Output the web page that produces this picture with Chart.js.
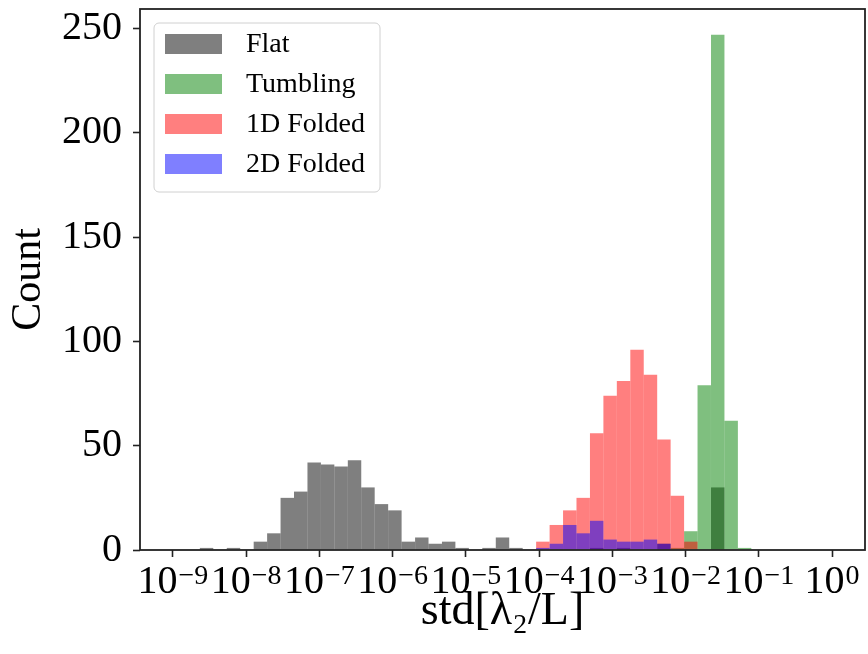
<!DOCTYPE html>
<html>
<head>
<meta charset="utf-8">
<script src="https://cdn.jsdelivr.net/npm/chart.js@4.4.3/dist/chart.umd.min.js"></script>
<style>
  html, body { margin: 0; padding: 0; background: #fff; }
</style>
</head>
<body>
<canvas id="hist" width="868" height="654"></canvas>
<script>
// histogram bins: log10 of the 50 bin edges (10^-9 .. 10^0)
const binEdges = [
  -9.000, -8.816, -8.633, -8.449, -8.265, -8.082, -7.898, -7.714, -7.531, -7.347,
  -7.163, -6.980, -6.796, -6.612, -6.429, -6.245, -6.061, -5.878, -5.694, -5.510,
  -5.327, -5.143, -4.959, -4.776, -4.592, -4.408, -4.224, -4.041, -3.857, -3.673,
  -3.490, -3.306, -3.122, -2.939, -2.755, -2.571, -2.388, -2.204, -2.020, -1.837,
  -1.653, -1.469, -1.286, -1.102, -0.918, -0.735, -0.551, -0.367, -0.184, 0.000
];

// counts per bin
const flatCounts = [
  0, 0, 1, 0, 1, 0, 4, 8, 25, 28,
  42, 41, 40, 43, 30, 22, 19, 4, 6, 3,
  4, 1, 0, 1, 6, 1, 0, 0, 0, 0,
  0, 1, 0, 1, 0, 0, 3, 0, 0, 0,
  30, 0, 0, 0, 0, 0, 0, 0, 0
];
const tumblingCounts = [
  0, 0, 0, 0, 0, 0, 0, 0, 0, 0,
  0, 0, 0, 0, 0, 0, 0, 0, 0, 0,
  0, 0, 0, 0, 0, 0, 0, 0, 0, 0,
  0, 0, 0, 0, 0, 0, 0, 1, 9, 79,
  247, 62, 1, 0, 0, 0, 0, 0, 0
];
const folded1DCounts = [
  0, 0, 0, 0, 0, 0, 0, 0, 0, 0,
  0, 0, 0, 0, 0, 0, 0, 0, 0, 0,
  0, 0, 0, 0, 0, 0, 0, 4, 12, 19,
  25, 56, 74, 81, 96, 84, 53, 26, 4, 0,
  0, 0, 0, 0, 0, 0, 0, 0, 0
];
const folded2DCounts = [
  0, 0, 0, 0, 0, 0, 0, 0, 0, 0,
  0, 0, 0, 0, 0, 0, 0, 0, 0, 0,
  0, 0, 0, 0, 0, 0, 0, 1, 3, 12,
  8, 14, 5, 4, 4, 5, 3, 0, 0, 0,
  0, 0, 0, 0, 0, 0, 0, 0, 0
];

const seriesNames = ['Flat', 'Tumbling', '1D Folded', '2D Folded'];
const seriesColors = ['rgba(0,0,0,0.5)', 'rgba(0,128,0,0.5)', 'rgba(255,0,0,0.5)', 'rgba(0,0,255,0.5)'];

// x ticks: 10^p, drawn as base + raised exponent
const xTickPowers = [-9, -8, -7, -6, -5, -4, -3, -2, -1, 0];
const xTickExponents = ['−9', '−8', '−7', '−6', '−5', '−4', '−3', '−2', '−1', '0'];
const yTicks = [0, 50, 100, 150, 200, 250];

const SERIF = "'Liberation Serif', 'DejaVu Serif', serif";

function toPoints(counts) {
  return counts.map((c, i) => ({ x: (binEdges[i] + binEdges[i + 1]) / 2, y: c }));
}

const allCounts = [flatCounts, tumblingCounts, folded1DCounts, folded2DCounts];

// frame, power-of-ten tick labels and legend box
const extras = {
  id: 'extras',
  afterDraw(chart) {
    const { ctx, chartArea: a } = chart;
    ctx.save();
    ctx.lineWidth = 1.8;
    ctx.strokeStyle = '#222';
    ctx.strokeRect(a.left, a.top, a.right - a.left, a.bottom - a.top);

    // x tick labels
    const xs = chart.scales.x;
    ctx.fillStyle = '#000';
    ctx.textAlign = 'left';
    ctx.textBaseline = 'alphabetic';
    xTickPowers.forEach((p, i) => {
      const px = xs.getPixelForValue(p);
      ctx.font = '40px ' + SERIF;
      const wBase = ctx.measureText('10').width;
      ctx.font = '28px ' + SERIF;
      const wExp = ctx.measureText(xTickExponents[i]).width;
      const x0 = px - (wBase + wExp + 1) / 2;
      ctx.font = '40px ' + SERIF;
      ctx.fillText('10', x0, a.bottom + 43);
      ctx.font = '28px ' + SERIF;
      ctx.fillText(xTickExponents[i], x0 + wBase + 1, a.bottom + 34);
    });

    // legend
    const lx = a.left + 14, ly = a.top + 14, lw = 226, lh = 169;
    ctx.beginPath();
    ctx.roundRect(lx, ly, lw, lh, 5);
    ctx.fillStyle = 'rgba(255,255,255,0.8)';
    ctx.fill();
    ctx.lineWidth = 1;
    ctx.strokeStyle = '#d0d0d0';
    ctx.stroke();

    ctx.font = '28px ' + SERIF;
    ctx.textBaseline = 'middle';
    chart.data.datasets.forEach((ds, i) => {
      const cy = ly + 21 + i * 40;
      ctx.fillStyle = ds.backgroundColor;
      ctx.fillRect(lx + 11, cy - 10, 57, 20);
      ctx.fillStyle = '#000';
      ctx.fillText(ds.label, lx + 92, cy + 1);
    });
    ctx.restore();
  }
};

const noEdgePadding = (scale) => {
  scale.paddingTop = 0;
  scale.paddingBottom = 0;
  scale.paddingLeft = 0;
  scale.paddingRight = 0;
};

new Chart(document.getElementById('hist'), {
  type: 'bar',
  data: {
    datasets: seriesNames.map((name, i) => ({
      label: name,
      data: toPoints(allCounts[i]),
      backgroundColor: seriesColors[i],
      borderWidth: 0,
      inflateAmount: 0,
      barPercentage: 1,
      categoryPercentage: 1,
      grouped: false,
      order: seriesNames.length - i
    }))
  },
  options: {
    responsive: false,
    animation: false,
    layout: { padding: { top: 9, right: 3, left: 0, bottom: 0 } },
    plugins: {
      legend: { display: false },
      tooltip: { enabled: false }
    },
    scales: {
      x: {
        type: 'linear',
        min: -9.45,
        max: 0.45,
        offset: false,
        afterBuildTicks: (scale) => { scale.ticks = xTickPowers.map(v => ({ value: v })); },
        afterFit: (scale) => { scale.height = 104; noEdgePadding(scale); },
        border: { display: false },
        grid: { offset: false, drawOnChartArea: false, drawTicks: true, tickLength: 7, tickWidth: 1.6, tickColor: '#222' },
        ticks: { display: false },
        title: {
          display: true,
          text: 'std[λ₂/L]',
          color: '#000',
          font: { family: SERIF, size: 46 },
          padding: { top: 0, bottom: 14 }
        }
      },
      y: {
        min: 0,
        max: 259.35,
        afterBuildTicks: (scale) => { scale.ticks = yTicks.map(v => ({ value: v })); },
        afterFit: (scale) => { scale.width = 140; noEdgePadding(scale); },
        border: { display: false },
        grid: { drawOnChartArea: false, drawTicks: true, tickLength: 7, tickWidth: 1.6, tickColor: '#222' },
        ticks: {
          padding: 11,
          color: '#000',
          font: { family: SERIF, size: 40 }
        },
        title: {
          display: true,
          text: 'Count',
          color: '#000',
          font: { family: SERIF, size: 42 },
          padding: { top: 4, bottom: 0 }
        }
      }
    }
  },
  plugins: [extras]
});
</script>
</body>
</html>
